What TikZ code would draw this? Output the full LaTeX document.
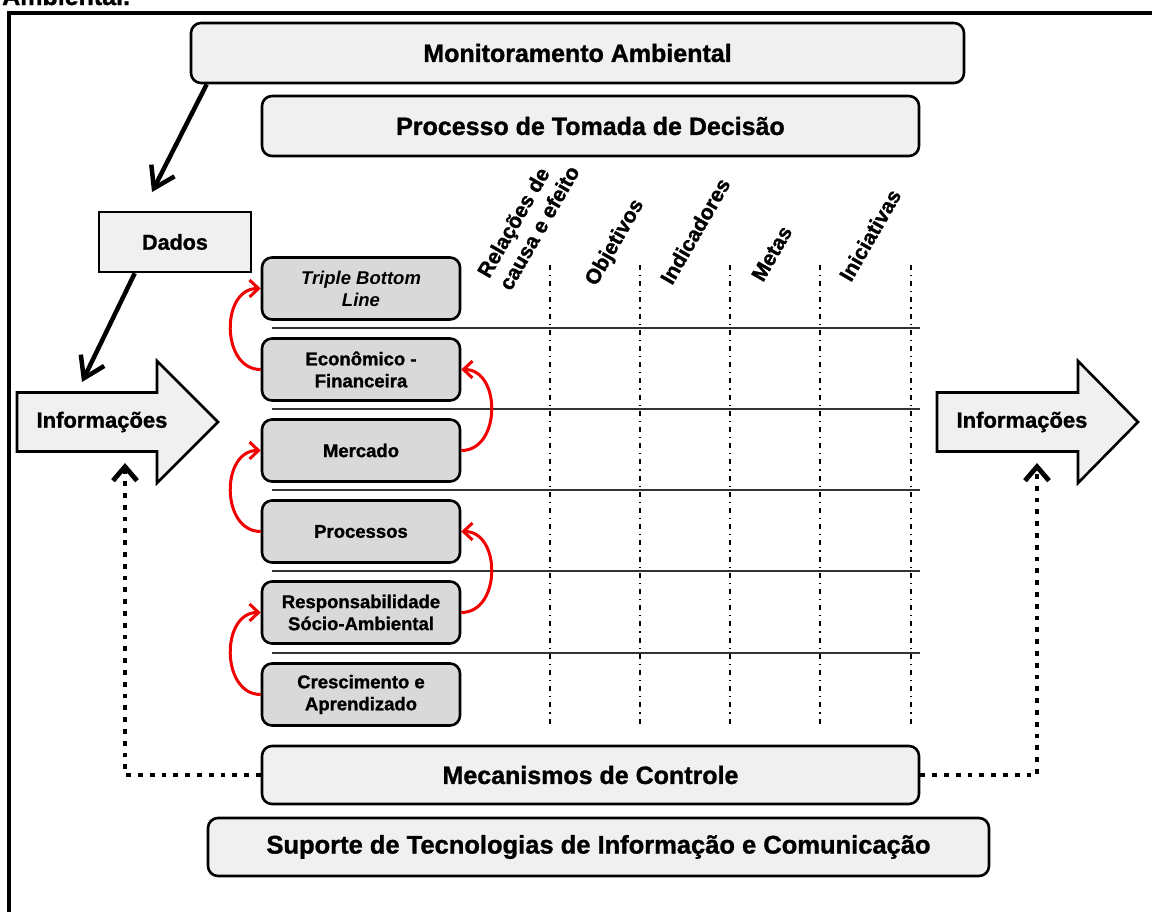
\documentclass[tikz,border=0pt]{standalone}
\usepackage{fontspec}
\setmainfont{Liberation Sans}[BoldFeatures={FakeBold=1.2}]
\usetikzlibrary{arrows.meta,calc}
\definecolor{lightbox}{HTML}{F0F0F0}
\definecolor{catgray}{HTML}{D9D9D9}
\definecolor{arrred}{HTML}{F00000}
\begin{document}
\begin{tikzpicture}[x=1pt,y=-1pt,
  bigbox/.style={draw=black, line width=2.6pt, rounded corners=10pt, fill=lightbox, inner sep=0pt, font=\bfseries\fontsize{25}{30}\selectfont},
  catbox/.style={draw=black, line width=2.6pt, rounded corners=10pt, fill=catgray, minimum width=198pt, minimum height=62pt, inner sep=0pt, align=center, font=\bfseries\fontsize{18.5}{22}\selectfont},
  sqbox/.style={draw=black, line width=2.6pt, fill=lightbox, inner sep=0pt, font=\bfseries\fontsize{21.5}{25}\selectfont},
  lbl/.style={inner sep=0pt, font=\bfseries\fontsize{22}{26}\selectfont},
  hdr/.style={inner sep=0pt, rotate=60, align=left, font=\bfseries\fontsize{21}{25}\selectfont},
  blkarr/.style={line width=4.5pt, -{Straight Barb[length=20pt,width=26pt]}},
  redarr/.style={arrred, line width=3pt, -{Straight Barb[length=9pt,width=17pt]}},
  dotarr/.style={line width=4.8pt, dash pattern=on 4.8pt off 7pt, -{Straight Barb[length=14pt,width=24pt]}},
  sep/.style={line width=1.6pt, black!80},
  col/.style={line width=1.3pt, dash pattern=on 5pt off 5pt on 1.2pt off 5pt},
  bigarrow/.style={draw=black, line width=2.6pt, fill=lightbox, line join=miter}
]
\useasboundingbox (0,0) rectangle (1152,911);
\clip (0,0) rectangle (1152,911);

% outer frame
\draw[line width=3.5pt] (9,930) -- (9,13) -- (1170,13);
\node[anchor=base west, inner sep=0pt, font=\bfseries\fontsize{25}{30}\selectfont] (amb) at (2,5) {Ambiental.};

% main boxes
\node[bigbox, minimum width=773pt, minimum height=60pt] (mon) at (577.5,53) {Monitoramento Ambiental};
\node[bigbox, minimum width=657pt, minimum height=60pt] (dec) at (590.5,126) {Processo de Tomada de Decisão};
\node[sqbox, minimum width=152pt, minimum height=60pt] (dados) at (175,242) {Dados};
\node[bigbox, minimum width=657pt, minimum height=58pt] (mec) at (590.5,775) {Mecanismos de Controle};
\node[bigbox, minimum width=781pt, minimum height=58pt, font=\bfseries\fontsize{25.5}{30}\selectfont] (sup) at (598.5,847) {Suporte de Tecnologias de Informação e Comunicação};

% separators and columns
\foreach \yy in {328,409,490,571,653} \draw[sep] (272,\yy) -- (920,\yy);
\foreach \xx in {550,640,730,820,911} \draw[col] (\xx,265) -- (\xx,727);

% category boxes
\node[catbox, font=\bfseries\itshape\fontsize{18.5}{22}\selectfont] (tbl) at (361,288.5) {Triple Bottom\\Line};
\node[catbox] (ef) at (361,369.5) {Econômico -\\Financeira};
\node[catbox] (merc) at (361,450.5) {Mercado};
\node[catbox] (proc) at (361,531.5) {Processos};
\node[catbox] (resp) at (361,612.5) {Responsabilidade\\Sócio-Ambiental};
\node[catbox] (cresc) at (361,694.5) {Crescimento e\\Aprendizado};

% column headers
\node[hdr, anchor=south west] (h1) at (511,292) {Relações de\\causa e efeito};
\node[hdr, anchor=base west] (h2) at (596,287) {Objetivos};
\node[hdr, anchor=base west] (h3) at (672,286) {Indicadores};
\node[hdr, anchor=base west] (h4) at (763,283) {Metas};
\node[hdr, anchor=base west] (h5) at (851,283) {Iniciativas};

% Informacoes arrows
\draw[bigarrow] (17,392.5) -- (157,392.5) -- (157,361) -- (218,422) -- (157,483) -- (157,451.5) -- (17,451.5) -- cycle;
\node[lbl] (infL) at (102,422) {Informações};
\draw[bigarrow] (937,392.5) -- (1078,392.5) -- (1078,361) -- (1138,422) -- (1078,483) -- (1078,451.5) -- (937,451.5) -- cycle;
\node[lbl] (infR) at (1022,422) {Informações};

% black arrows
\coordinate (a1e) at (152,192);
\coordinate (a2e) at (82,382);
\draw[blkarr] ($(mon.south west)+(17,0)$) -- (a1e);
\draw[blkarr] ($(dados.south west)+(37,0)$) -- (a2e);

% red arrows
\draw[redarr] (ef.west) .. controls ($(ef.west)+(-40,0)$) and ($(tbl.west)+(-40,0)$) .. (tbl.west);
\draw[redarr] (proc.west) .. controls ($(proc.west)+(-40,0)$) and ($(merc.west)+(-40,0)$) .. (merc.west);
\draw[redarr] (cresc.west) .. controls ($(cresc.west)+(-40,0)$) and ($(resp.west)+(-40,0)$) .. (resp.west);
\draw[redarr] (merc.east) .. controls ($(merc.east)+(40,0)$) and ($(ef.east)+(40,0)$) .. (ef.east);
\draw[redarr] (resp.east) .. controls ($(resp.east)+(40,0)$) and ($(proc.east)+(40,0)$) .. (proc.east);

% dotted feedback
\coordinate (tL) at (125,463);
\coordinate (tR) at (1037,463);
\draw[dotarr] (mec.west) -| (tL);
\draw[dotarr] (mec.east) -| (tR);
\end{tikzpicture}
\end{document}
